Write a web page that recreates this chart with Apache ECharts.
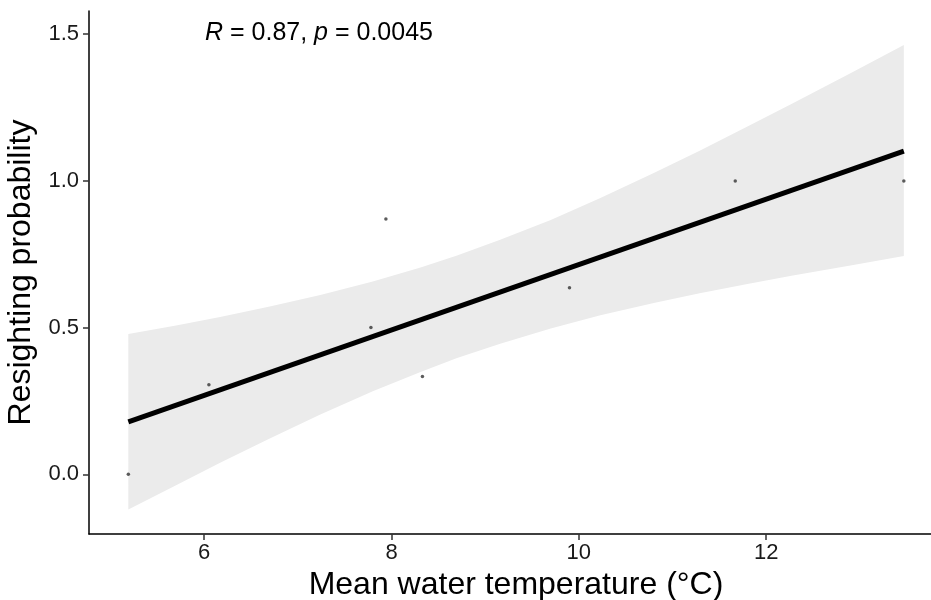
<!DOCTYPE html>
<html>
<head>
<meta charset="utf-8">
<script src="https://cdn.jsdelivr.net/npm/echarts@6/dist/echarts.min.js"></script>
<style>html,body{margin:0;padding:0;background:#fff;}#chart{width:931px;height:600px;}</style>
</head>
<body>
<div id="chart"></div>
<script>
// Observed points
var tempX = [5.19, 6.05, 7.78, 7.94, 8.33, 9.90, 11.67, 13.47];
var resightY = [0.0, 0.305, 0.50, 0.87, 0.333, 0.636, 1.0, 1.0];
// Fitted line endpoints
var fitX = [5.19, 13.47];
var fitY = [0.179, 1.1015];
// Confidence band edges
var bandX = [5.19, 5.7, 6.17, 6.7, 7.24, 7.8, 8.31, 8.7, 9.16, 9.7, 10.23, 10.8, 11.29, 11.8, 12.27, 12.9, 13.47];
var bandUpper = [0.478, 0.507, 0.536, 0.572, 0.611, 0.657, 0.705, 0.746, 0.799, 0.867, 0.942, 1.027, 1.103, 1.185, 1.262, 1.367, 1.463];
var bandLower = [-0.120, -0.037, 0.039, 0.122, 0.204, 0.283, 0.349, 0.396, 0.445, 0.497, 0.542, 0.584, 0.617, 0.649, 0.677, 0.712, 0.744];
// Tick labels
var xTicks = [6, 8, 10, 12];
var yTicks = [0, 0.5, 1.0, 1.5];

var FONT = 'Liberation Sans, Arial, sans-serif';
var chart = echarts.init(document.getElementById('chart'), null, {renderer: 'canvas'});

var fitData = fitX.map(function (x, i) { return [x, fitY[i]]; });
var pts = tempX.map(function (x, i) { return [x, resightY[i]]; });

var option = {
  animation: false,
  backgroundColor: '#ffffff',
  title: {
    left: 200, top: 16,
    text: '{i|R} = 0.87, {i|p} = 0.0045',
    textStyle: {
      fontFamily: FONT, fontSize: 25, color: '#000', fontWeight: 'normal',
      rich: { i: { fontStyle: 'italic', fontFamily: FONT, fontSize: 25, color: '#000' } }
    }
  },
  grid: { left: 89, right: 0, top: 11, bottom: 66, containLabel: false, outerBoundsMode: 'none' },
  xAxis: {
    type: 'value', min: 4.77, max: 13.76,
    name: 'Mean water temperature (°C)', nameLocation: 'middle', nameGap: 33,
    nameTextStyle: { fontFamily: FONT, fontSize: 32, color: '#000', padding: [0, 0, 0, 12] },
    axisLine: { show: true, onZero: false, lineStyle: { color: '#000', width: 1.5 } },
    axisTick: { show: true, length: 6, customValues: xTicks, lineStyle: { color: '#333', width: 1.5 } },
    axisLabel: { customValues: xTicks, fontFamily: FONT, fontSize: 22, color: '#1a1a1a', margin: 8 },
    splitLine: { show: false }
  },
  yAxis: {
    type: 'value', min: -0.2034, max: 1.579,
    name: 'Resighting probability', nameLocation: 'middle', nameGap: 40, nameRotate: 90,
    nameTextStyle: { fontFamily: FONT, fontSize: 32, color: '#000' },
    axisLine: { show: true, onZero: false, lineStyle: { color: '#000', width: 1.5 } },
    axisTick: { show: true, length: 6, customValues: yTicks, lineStyle: { color: '#333', width: 1.5 } },
    axisLabel: { customValues: yTicks, fontFamily: FONT, fontSize: 22, color: '#1a1a1a', margin: 10,
      formatter: function (v) { return v.toFixed(1); } },
    splitLine: { show: false }
  },
  series: [
    {
      type: 'custom', silent: true, z: 1,
      data: [[bandX[0], bandLower[0]]],
      renderItem: function (params, api) {
        var poly = [];
        for (var i = 0; i < bandX.length; i++) poly.push(api.coord([bandX[i], bandUpper[i]]));
        for (var j = bandX.length - 1; j >= 0; j--) poly.push(api.coord([bandX[j], bandLower[j]]));
        return { type: 'polygon', shape: { points: poly }, style: { fill: '#ebebeb', stroke: null } };
      }
    },
    {
      type: 'line', data: fitData, z: 3, symbol: 'none', silent: true,
      lineStyle: { color: '#000', width: 5, cap: 'butt' }
    },
    {
      type: 'scatter', data: pts, z: 4, symbolSize: 3.5, silent: true,
      itemStyle: { color: '#333' }
    }
  ]
};
chart.setOption(option);
</script>
</body>
</html>
